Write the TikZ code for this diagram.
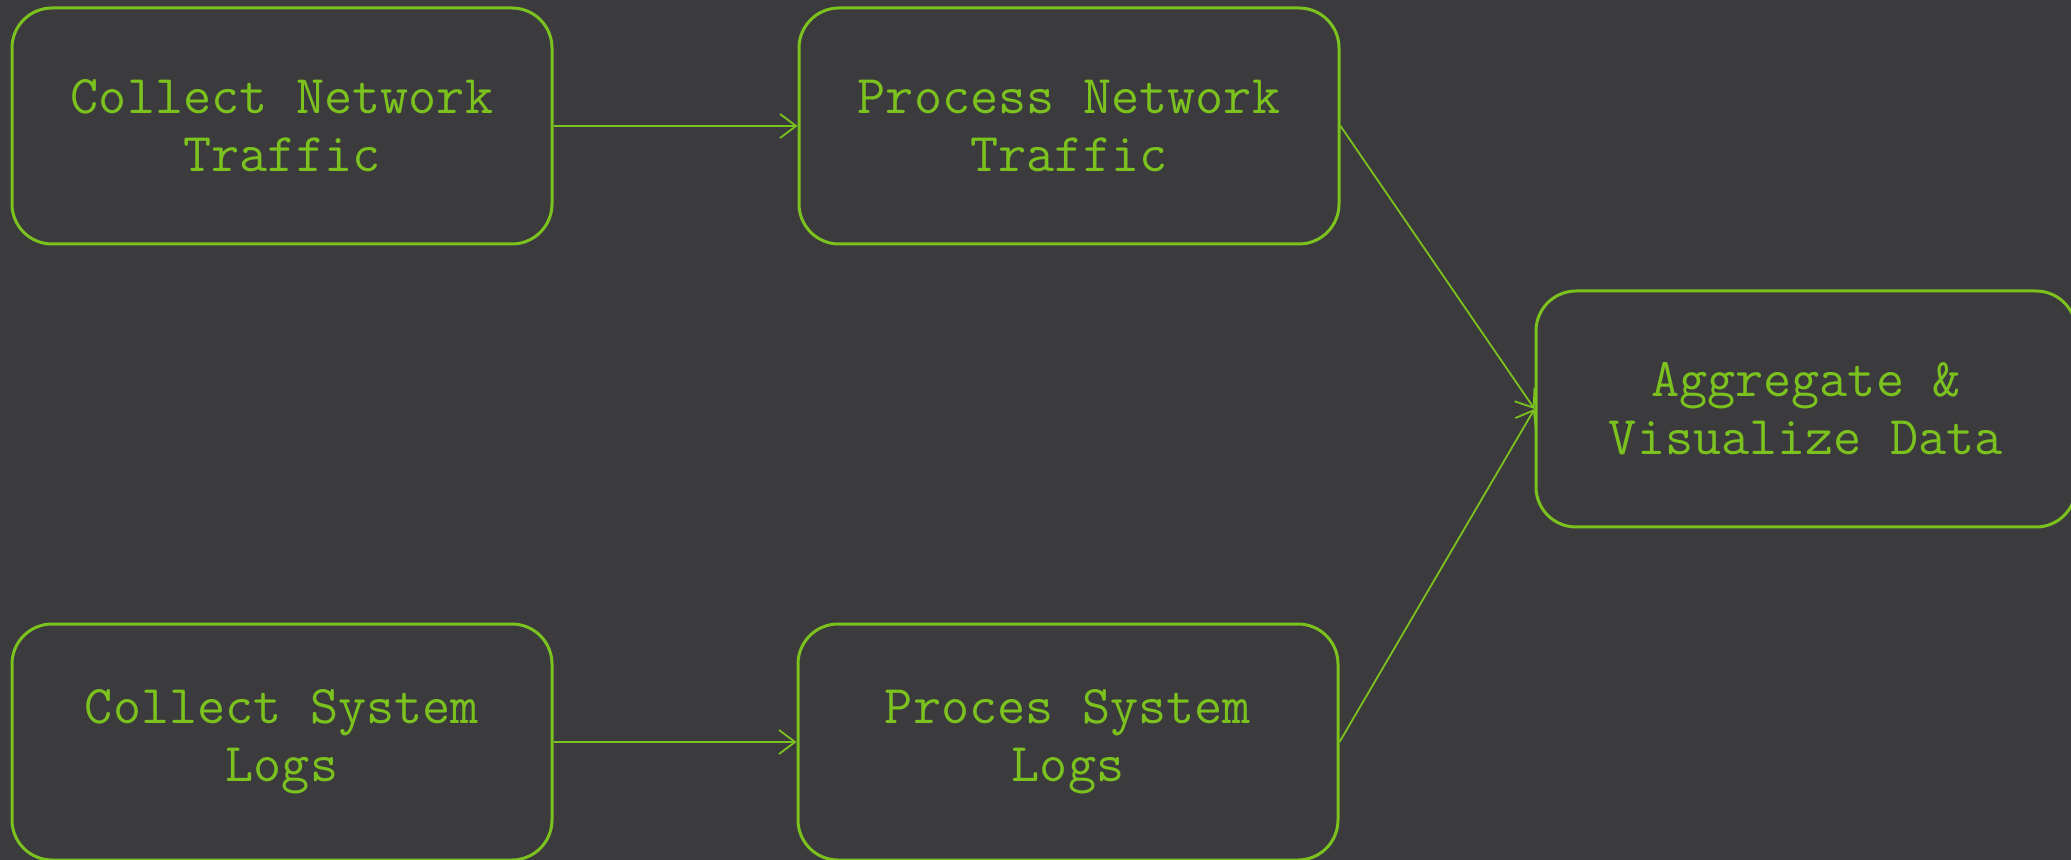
\documentclass[tikz,border=0pt]{standalone}
\usepackage{fontspec}
\usetikzlibrary{arrows.meta}
\definecolor{bgc}{RGB}{59,59,61}
\definecolor{grn}{RGB}{124,194,30}
\begin{document}
\begin{tikzpicture}[x=0.5pt,y=-0.5pt,
  stepbox/.style={draw=grn, line width=1.5pt, rounded corners=20pt, minimum width=270pt, minimum height=118pt, text width=260pt, align=center, text=grn, font=\ttfamily\fontsize{27.3}{29}\selectfont, execute at begin node={\spaceskip=0.525em\relax}, inner sep=0pt},
  conn/.style={draw=grn, line width=0.9pt, -{Straight Barb[length=8pt,width=12pt,line width=0.9pt]}}]
\fill[bgc] (0,0) rectangle (2071,860);
\useasboundingbox (0,0) rectangle (2071,860);
\node[stepbox] (cnt) at (282,126) {Collect Network\\Traffic};
\node[stepbox] (pnt) at (1069,126) {Process Network\\Traffic};
\node[stepbox] (agg) at (1806,409) {Aggregate \&\\Visualize Data};
\node[stepbox] (csl) at (282,742) {Collect System\\Logs};
\node[stepbox] (psl) at (1068,742) {Proces System\\Logs};
\draw[conn] (cnt.east) -- (pnt.west);
\draw[conn] (csl.east) -- (psl.west);
\draw[conn] (pnt.east) -- (agg.west);
\draw[conn] (psl.east) -- (agg.west);
\end{tikzpicture}
\end{document}
